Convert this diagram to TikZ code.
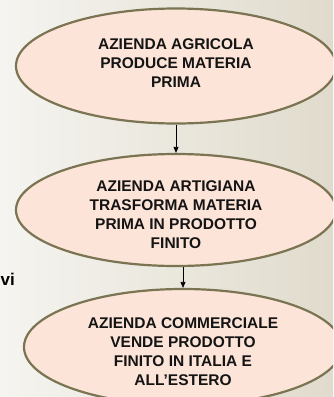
\documentclass[tikz,border=0pt]{standalone}
\usepackage{fontspec}
\setmainfont{Liberation Sans}[BoldFont={Liberation Sans Bold}]
\usetikzlibrary{shapes.geometric,arrows.meta}
\definecolor{bgL}{RGB}{245,244,240}
\definecolor{bgR}{RGB}{224,219,204}
\definecolor{ellfill}{RGB}{252,228,216}
\definecolor{ellline}{RGB}{122,116,82}
\definecolor{txt}{RGB}{20,20,20}
\tikzset{
  stage/.style={ellipse, draw=ellline, fill=ellfill, line width=2.2pt,
    inner sep=0pt},
  stagetext/.style={inner sep=0pt, text=txt, align=center,
    font=\bfseries\fontsize{15.5}{19}\selectfont},
  flow/.style={-{Triangle[length=6pt,width=5pt]}, line width=0.8pt, draw=black}
}
\begin{document}
\begin{tikzpicture}[x=1pt,y=-1pt]
\useasboundingbox (0,0) rectangle (333,397);
\clip (0,0) rectangle (333,397);
\shade[left color=bgL, right color=bgR] (0,0) rectangle (333,397);
\node[stage, minimum width=320pt, minimum height=115pt] (e1) at (176,66) {};
\node[stagetext] (t1) at ([yshift=3pt]e1.center)
  {AZIENDA AGRICOLA\\PRODUCE MATERIA\\PRIMA};
\node[stage, minimum width=320pt, minimum height=112pt] (e2) at (176,210) {};
\node[stagetext] (t2) at ([yshift=-5pt]e2.center)
  {AZIENDA ARTIGIANA\\TRASFORMA MATERIA\\PRIMA IN PRODOTTO\\FINITO};
\node[stage, minimum width=318pt, minimum height=116pt] (e3) at (183,347) {};
\node[stagetext] (t3) at ([yshift=-4.5pt]e3.center)
  {AZIENDA COMMERCIALE\\VENDE PRODOTTO\\FINITO IN ITALIA E\\ALL'ESTERO};
\node[anchor=base west, inner sep=0pt, font=\bfseries\fontsize{17}{20}\selectfont] (vi) at (0.5,285) {vi};
\draw[flow] (e1.south) -- (e2.north);
\draw[flow] (e2.south -| e3.north) -- (e3.north);
\end{tikzpicture}
\end{document}
